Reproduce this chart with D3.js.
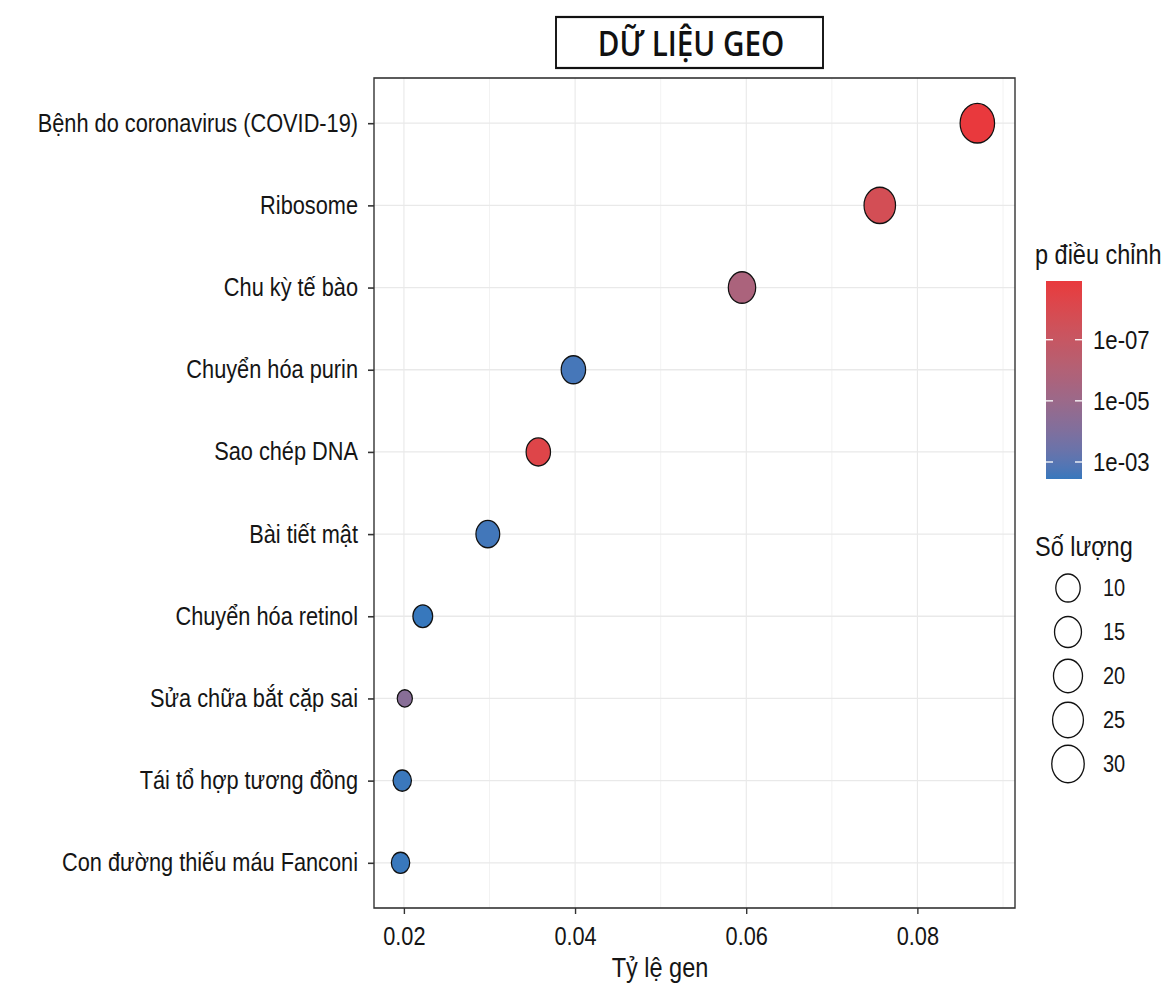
<!DOCTYPE html>
<html>
<head>
<meta charset="utf-8">
<script src="https://cdn.jsdelivr.net/npm/d3@7"></script>
<style>
  html, body { margin: 0; padding: 0; background: #ffffff; }
  svg { display: block; }
</style>
</head>
<body>
<svg id="chart"></svg>
<script>
// KEGG pathway enrichment: one dot per pathway
const pathways = [
  "Bệnh do coronavirus (COVID-19)",
  "Ribosome",
  "Chu kỳ tế bào",
  "Chuyển hóa purin",
  "Sao chép DNA",
  "Bài tiết mật",
  "Chuyển hóa retinol",
  "Sửa chữa bắt cặp sai",
  "Tái tổ hợp tương đồng",
  "Con đường thiếu máu Fanconi"
];
const geneRatio = [0.0870, 0.0756, 0.0595, 0.0398, 0.0357, 0.0298, 0.0222, 0.0201, 0.0198, 0.0196];
const geneCount = [37, 27, 16, 10, 10, 9, 4, 2, 3, 3];
const pAdjust   = [1.2e-9, 2e-8, 2e-6, 2.2e-3, 5e-9, 2.6e-3, 3.6e-3, 5e-5, 3.2e-3, 3.4e-3];

const xTicks = [0.02, 0.04, 0.06, 0.08];
const xMinor = [0.03, 0.05, 0.07, 0.09];
const colorTicks = [1e-7, 1e-5, 1e-3];
const colorTickLabels = ["1e-07", "1e-05", "1e-03"];
const sizeBreaks = [10, 15, 20, 25, 30];

const TITLE = "DỮ LIỆU GEO";
const X_TITLE = "Tỷ lệ gen";
const COLOR_TITLE = "p điều chỉnh";
const SIZE_TITLE = "Số lượng";

// The drawing is laid out in a wider space and squeezed horizontally into the page
const WIDTH = 1176, HEIGHT = 989, SQUEEZE = 0.87;
const VW = WIDTH / SQUEEZE;
const sx = px => px / SQUEEZE;

const FONT = "'Liberation Sans', Arial, Helvetica, sans-serif";
const INK = "#151515";

const svg = d3.select("#chart")
  .attr("width", WIDTH).attr("height", HEIGHT)
  .attr("viewBox", `0 0 ${VW} ${HEIGHT}`)
  .attr("preserveAspectRatio", "none");

svg.append("rect").attr("width", VW).attr("height", HEIGHT).attr("fill", "#ffffff");

const panel = { left: sx(374), right: sx(1015), top: 78, bottom: 908 };

const x = d3.scaleLinear().domain([0.0165, 0.0914]).range([panel.left, panel.right]);
const y = d3.scalePoint().domain(pathways).range([panel.top, panel.bottom]).padding(0.55);

const pExtent = d3.extent(pAdjust);
const color = d3.scaleLog().domain(pExtent)
  .range(["#E9393D", "#3778BD"])
  .interpolate(d3.interpolateLab);

const countMin = d3.min(geneCount), countMax = d3.max(geneCount);
const sizeStep = d3.scaleSqrt().domain([0, countMax - countMin])
  .range([0, 1.88 * Math.sqrt(countMax - countMin)]);
const radius = v => 8.7 + sizeStep(v - countMin);

// ---- grid ----
const grid = svg.append("g");
grid.selectAll("line.minor").data(xMinor).join("line")
  .attr("x1", d => x(d)).attr("x2", d => x(d))
  .attr("y1", panel.top).attr("y2", panel.bottom)
  .attr("stroke", "#f0f0f0").attr("stroke-width", 0.9);
grid.selectAll("line.majorx").data(xTicks).join("line")
  .attr("x1", d => x(d)).attr("x2", d => x(d))
  .attr("y1", panel.top).attr("y2", panel.bottom)
  .attr("stroke", "#e9e9e9").attr("stroke-width", 1.3);
grid.selectAll("line.majory").data(pathways).join("line")
  .attr("x1", panel.left).attr("x2", panel.right)
  .attr("y1", d => y(d)).attr("y2", d => y(d))
  .attr("stroke", "#e9e9e9").attr("stroke-width", 1.3);

// ---- points (largest first so small dots stay on top) ----
const rows = pathways.map((name, i) => ({ name, ratio: geneRatio[i], count: geneCount[i], p: pAdjust[i] }));
svg.append("g").selectAll("circle")
  .data(rows.slice().sort((a, b) => b.count - a.count))
  .join("circle")
  .attr("cx", d => x(d.ratio))
  .attr("cy", d => y(d.name))
  .attr("r", d => radius(d.count))
  .attr("fill", d => color(d.p))
  .attr("stroke", "#111111")
  .attr("stroke-width", 1.4);

// ---- panel border ----
svg.append("rect")
  .attr("x", panel.left).attr("y", panel.top)
  .attr("width", panel.right - panel.left).attr("height", panel.bottom - panel.top)
  .attr("fill", "none").attr("stroke", "#333333").attr("stroke-width", 1.6);

// ---- axes ----
const xAxis = svg.append("g")
  .attr("transform", `translate(0,${panel.bottom})`)
  .call(d3.axisBottom(x).tickValues(xTicks).tickFormat(d3.format(".2f")).tickSize(6).tickPadding(13));
const yAxis = svg.append("g")
  .attr("transform", `translate(${panel.left},0)`)
  .call(d3.axisLeft(y).tickSize(sx(6)).tickPadding(sx(10)));
[xAxis, yAxis].forEach(g => {
  g.select(".domain").remove();
  g.selectAll(".tick line").attr("stroke", "#333333").attr("stroke-width", 1.6);
  g.selectAll(".tick text").attr("fill", INK).style("font-family", FONT).style("font-size", "25px");
});

svg.append("text")
  .attr("x", sx(660)).attr("y", 977)
  .attr("text-anchor", "middle")
  .style("font-family", FONT).style("font-size", "27px").attr("fill", INK)
  .text(X_TITLE);

// ---- title box ----
svg.append("rect")
  .attr("x", sx(556)).attr("y", 17)
  .attr("width", sx(823) - sx(556)).attr("height", 51)
  .attr("fill", "#ffffff").attr("stroke", "#111111").attr("stroke-width", 2.2);
svg.append("text")
  .attr("x", sx(691)).attr("y", 56)
  .attr("text-anchor", "middle")
  .style("font-family", "'Open Sans', 'Noto Sans', sans-serif")
  .style("font-weight", 600).style("font-size", "34px").attr("fill", "#111111")
  .text(TITLE);

// ---- colour bar legend ----
const cb = { x0: sx(1046), x1: sx(1082), top: 281, bottom: 479 };
const cbY = d3.scaleLog().domain(pExtent).range([cb.top, cb.bottom]);

svg.append("text")
  .attr("x", sx(1035)).attr("y", 264)
  .style("font-family", FONT).style("font-size", "27px").attr("fill", INK)
  .text(COLOR_TITLE);

const grad = svg.append("defs").append("linearGradient")
  .attr("id", "pgrad").attr("x1", 0).attr("x2", 0).attr("y1", 0).attr("y2", 1);
const logLo = Math.log10(pExtent[0]), logHi = Math.log10(pExtent[1]);
d3.range(0, 21).forEach(i => {
  const t = i / 20;
  grad.append("stop")
    .attr("offset", t)
    .attr("stop-color", color(Math.pow(10, logLo + t * (logHi - logLo))));
});
svg.append("rect")
  .attr("x", cb.x0).attr("y", cb.top)
  .attr("width", cb.x1 - cb.x0).attr("height", cb.bottom - cb.top)
  .attr("fill", "url(#pgrad)");

const cbTicks = svg.append("g");
cbTicks.selectAll("line.l").data(colorTicks).join("line")
  .attr("x1", cb.x0).attr("x2", cb.x0 + sx(7))
  .attr("y1", d => cbY(d)).attr("y2", d => cbY(d))
  .attr("stroke", "#ffffff").attr("stroke-width", 1.3);
cbTicks.selectAll("line.r").data(colorTicks).join("line")
  .attr("x1", cb.x1 - sx(7)).attr("x2", cb.x1)
  .attr("y1", d => cbY(d)).attr("y2", d => cbY(d))
  .attr("stroke", "#ffffff").attr("stroke-width", 1.3);
cbTicks.selectAll("text").data(colorTicks).join("text")
  .attr("x", sx(1093)).attr("y", d => cbY(d))
  .attr("dy", "0.36em")
  .style("font-family", FONT).style("font-size", "25.5px").attr("fill", INK)
  .text((d, i) => colorTickLabels[i]);

// ---- size legend ----
svg.append("text")
  .attr("x", sx(1035)).attr("y", 556)
  .style("font-family", FONT).style("font-size", "27px").attr("fill", INK)
  .text(SIZE_TITLE);

const keyY = d3.scalePoint().domain(sizeBreaks).range([588, 764]);
const keys = svg.append("g").selectAll("g").data(sizeBreaks).join("g");
keys.append("circle")
  .attr("cx", sx(1068)).attr("cy", d => keyY(d))
  .attr("r", d => radius(d))
  .attr("fill", "none").attr("stroke", "#111111").attr("stroke-width", 1.5);
keys.append("text")
  .attr("x", sx(1103)).attr("y", d => keyY(d))
  .attr("dy", "0.36em")
  .style("font-family", FONT).style("font-size", "23px").attr("fill", INK)
  .text(d => d);
</script>
</body>
</html>
